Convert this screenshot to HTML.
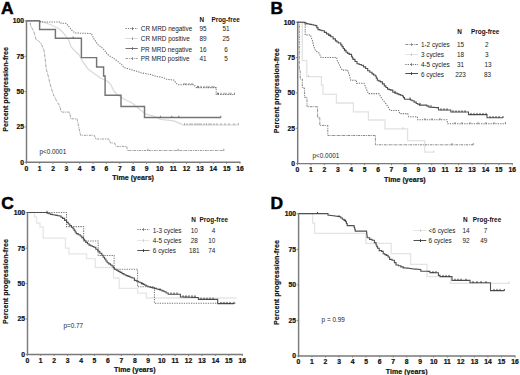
<!DOCTYPE html>
<html><head><meta charset="utf-8"><style>
html,body{margin:0;padding:0;background:#fff;}
svg{display:block;font-family:"Liberation Sans",sans-serif;}
</style></head><body>
<svg width="520" height="375" viewBox="0 0 520 375">
<rect width="520" height="375" fill="#fff"/>
<path d="M26.50 20.40V162.30H240.50" fill="none" stroke="#7a7a7a" stroke-width="1.45"/>
<path d="M26.30 162.30v1.6M39.66 162.30v1.6M53.01 162.30v1.6M66.37 162.30v1.6M79.72 162.30v1.6M93.08 162.30v1.6M106.44 162.30v1.6M119.79 162.30v1.6M133.15 162.30v1.6M146.51 162.30v1.6M159.86 162.30v1.6M173.22 162.30v1.6M186.57 162.30v1.6M199.93 162.30v1.6M213.29 162.30v1.6M226.64 162.30v1.6M240.00 162.30v1.6M26.30 162.30h-1.6M26.30 126.98h-1.6M26.30 91.65h-1.6M26.30 56.33h-1.6M26.30 21.00h-1.6" stroke="#7a7a7a" stroke-width="0.9"/>
<text x="26.30" y="170.70" font-size="6.75" text-anchor="middle" font-weight="bold" fill="#111" stroke="#111" stroke-width="0.22" >0</text>
<text x="39.66" y="170.70" font-size="6.75" text-anchor="middle" font-weight="bold" fill="#111" stroke="#111" stroke-width="0.22" >1</text>
<text x="53.01" y="170.70" font-size="6.75" text-anchor="middle" font-weight="bold" fill="#111" stroke="#111" stroke-width="0.22" >2</text>
<text x="66.37" y="170.70" font-size="6.75" text-anchor="middle" font-weight="bold" fill="#111" stroke="#111" stroke-width="0.22" >3</text>
<text x="79.72" y="170.70" font-size="6.75" text-anchor="middle" font-weight="bold" fill="#111" stroke="#111" stroke-width="0.22" >4</text>
<text x="93.08" y="170.70" font-size="6.75" text-anchor="middle" font-weight="bold" fill="#111" stroke="#111" stroke-width="0.22" >5</text>
<text x="106.44" y="170.70" font-size="6.75" text-anchor="middle" font-weight="bold" fill="#111" stroke="#111" stroke-width="0.22" >6</text>
<text x="119.79" y="170.70" font-size="6.75" text-anchor="middle" font-weight="bold" fill="#111" stroke="#111" stroke-width="0.22" >7</text>
<text x="133.15" y="170.70" font-size="6.75" text-anchor="middle" font-weight="bold" fill="#111" stroke="#111" stroke-width="0.22" >8</text>
<text x="146.51" y="170.70" font-size="6.75" text-anchor="middle" font-weight="bold" fill="#111" stroke="#111" stroke-width="0.22" >9</text>
<text x="159.86" y="170.70" font-size="6.75" text-anchor="middle" font-weight="bold" fill="#111" stroke="#111" stroke-width="0.22" >10</text>
<text x="173.22" y="170.70" font-size="6.75" text-anchor="middle" font-weight="bold" fill="#111" stroke="#111" stroke-width="0.22" >11</text>
<text x="186.57" y="170.70" font-size="6.75" text-anchor="middle" font-weight="bold" fill="#111" stroke="#111" stroke-width="0.22" >12</text>
<text x="199.93" y="170.70" font-size="6.75" text-anchor="middle" font-weight="bold" fill="#111" stroke="#111" stroke-width="0.22" >13</text>
<text x="213.29" y="170.70" font-size="6.75" text-anchor="middle" font-weight="bold" fill="#111" stroke="#111" stroke-width="0.22" >14</text>
<text x="226.64" y="170.70" font-size="6.75" text-anchor="middle" font-weight="bold" fill="#111" stroke="#111" stroke-width="0.22" >15</text>
<text x="240.00" y="170.70" font-size="6.75" text-anchor="middle" font-weight="bold" fill="#111" stroke="#111" stroke-width="0.22" >16</text>
<text x="23.90" y="164.70" font-size="6.75" text-anchor="end" font-weight="bold" fill="#111" stroke="#111" stroke-width="0.22" >0</text>
<text x="23.90" y="129.38" font-size="6.75" text-anchor="end" font-weight="bold" fill="#111" stroke="#111" stroke-width="0.22" >25</text>
<text x="23.90" y="94.05" font-size="6.75" text-anchor="end" font-weight="bold" fill="#111" stroke="#111" stroke-width="0.22" >50</text>
<text x="23.90" y="58.73" font-size="6.75" text-anchor="end" font-weight="bold" fill="#111" stroke="#111" stroke-width="0.22" >75</text>
<text x="23.90" y="23.40" font-size="6.75" text-anchor="end" font-weight="bold" fill="#111" stroke="#111" stroke-width="0.22" >100</text>
<text x="1.00" y="14.00" font-size="17.4" text-anchor="start" font-weight="bold" fill="#000" stroke="#000" stroke-width="0.5" >A</text>
<text x="133.15" y="180.20" font-size="7.1" text-anchor="middle" font-weight="bold" fill="#111" stroke="#111" stroke-width="0.18" >Time (years)</text>
<text x="0.00" y="0.00" font-size="7.15" text-anchor="middle" font-weight="bold" fill="#111" stroke="#111" stroke-width="0.18" transform="translate(8.40,89.40) rotate(-90)">Percent progression-free</text>
<path d="M297.70 21.60V163.60H512.80" fill="none" stroke="#7a7a7a" stroke-width="1.45"/>
<path d="M297.50 163.60v1.6M310.93 163.60v1.6M324.35 163.60v1.6M337.77 163.60v1.6M351.20 163.60v1.6M364.62 163.60v1.6M378.05 163.60v1.6M391.47 163.60v1.6M404.90 163.60v1.6M418.32 163.60v1.6M431.75 163.60v1.6M445.17 163.60v1.6M458.60 163.60v1.6M472.02 163.60v1.6M485.45 163.60v1.6M498.87 163.60v1.6M512.30 163.60v1.6M297.50 163.60h-1.6M297.50 128.25h-1.6M297.50 92.90h-1.6M297.50 57.55h-1.6M297.50 22.20h-1.6" stroke="#7a7a7a" stroke-width="0.9"/>
<text x="297.50" y="172.00" font-size="6.75" text-anchor="middle" font-weight="bold" fill="#111" stroke="#111" stroke-width="0.22" >0</text>
<text x="310.93" y="172.00" font-size="6.75" text-anchor="middle" font-weight="bold" fill="#111" stroke="#111" stroke-width="0.22" >1</text>
<text x="324.35" y="172.00" font-size="6.75" text-anchor="middle" font-weight="bold" fill="#111" stroke="#111" stroke-width="0.22" >2</text>
<text x="337.77" y="172.00" font-size="6.75" text-anchor="middle" font-weight="bold" fill="#111" stroke="#111" stroke-width="0.22" >3</text>
<text x="351.20" y="172.00" font-size="6.75" text-anchor="middle" font-weight="bold" fill="#111" stroke="#111" stroke-width="0.22" >4</text>
<text x="364.62" y="172.00" font-size="6.75" text-anchor="middle" font-weight="bold" fill="#111" stroke="#111" stroke-width="0.22" >5</text>
<text x="378.05" y="172.00" font-size="6.75" text-anchor="middle" font-weight="bold" fill="#111" stroke="#111" stroke-width="0.22" >6</text>
<text x="391.47" y="172.00" font-size="6.75" text-anchor="middle" font-weight="bold" fill="#111" stroke="#111" stroke-width="0.22" >7</text>
<text x="404.90" y="172.00" font-size="6.75" text-anchor="middle" font-weight="bold" fill="#111" stroke="#111" stroke-width="0.22" >8</text>
<text x="418.32" y="172.00" font-size="6.75" text-anchor="middle" font-weight="bold" fill="#111" stroke="#111" stroke-width="0.22" >9</text>
<text x="431.75" y="172.00" font-size="6.75" text-anchor="middle" font-weight="bold" fill="#111" stroke="#111" stroke-width="0.22" >10</text>
<text x="445.17" y="172.00" font-size="6.75" text-anchor="middle" font-weight="bold" fill="#111" stroke="#111" stroke-width="0.22" >11</text>
<text x="458.60" y="172.00" font-size="6.75" text-anchor="middle" font-weight="bold" fill="#111" stroke="#111" stroke-width="0.22" >12</text>
<text x="472.02" y="172.00" font-size="6.75" text-anchor="middle" font-weight="bold" fill="#111" stroke="#111" stroke-width="0.22" >13</text>
<text x="485.45" y="172.00" font-size="6.75" text-anchor="middle" font-weight="bold" fill="#111" stroke="#111" stroke-width="0.22" >14</text>
<text x="498.87" y="172.00" font-size="6.75" text-anchor="middle" font-weight="bold" fill="#111" stroke="#111" stroke-width="0.22" >15</text>
<text x="512.30" y="172.00" font-size="6.75" text-anchor="middle" font-weight="bold" fill="#111" stroke="#111" stroke-width="0.22" >16</text>
<text x="295.10" y="166.00" font-size="6.75" text-anchor="end" font-weight="bold" fill="#111" stroke="#111" stroke-width="0.22" >0</text>
<text x="295.10" y="130.65" font-size="6.75" text-anchor="end" font-weight="bold" fill="#111" stroke="#111" stroke-width="0.22" >25</text>
<text x="295.10" y="95.30" font-size="6.75" text-anchor="end" font-weight="bold" fill="#111" stroke="#111" stroke-width="0.22" >50</text>
<text x="295.10" y="59.95" font-size="6.75" text-anchor="end" font-weight="bold" fill="#111" stroke="#111" stroke-width="0.22" >75</text>
<text x="295.10" y="24.60" font-size="6.75" text-anchor="end" font-weight="bold" fill="#111" stroke="#111" stroke-width="0.22" >100</text>
<text x="270.60" y="13.80" font-size="17.4" text-anchor="start" font-weight="bold" fill="#000" stroke="#000" stroke-width="0.5" >B</text>
<text x="404.90" y="181.50" font-size="7.1" text-anchor="middle" font-weight="bold" fill="#111" stroke="#111" stroke-width="0.18" >Time (years)</text>
<text x="0.00" y="0.00" font-size="7.15" text-anchor="middle" font-weight="bold" fill="#111" stroke="#111" stroke-width="0.18" transform="translate(279.20,90.70) rotate(-90)">Percent progression-free</text>
<path d="M27.50 212.20V354.40H242.80" fill="none" stroke="#7a7a7a" stroke-width="1.45"/>
<path d="M27.30 354.40v1.6M40.74 354.40v1.6M54.17 354.40v1.6M67.61 354.40v1.6M81.05 354.40v1.6M94.49 354.40v1.6M107.92 354.40v1.6M121.36 354.40v1.6M134.80 354.40v1.6M148.24 354.40v1.6M161.68 354.40v1.6M175.11 354.40v1.6M188.55 354.40v1.6M201.99 354.40v1.6M215.43 354.40v1.6M228.86 354.40v1.6M242.30 354.40v1.6M27.30 354.40h-1.6M27.30 319.00h-1.6M27.30 283.60h-1.6M27.30 248.20h-1.6M27.30 212.80h-1.6" stroke="#7a7a7a" stroke-width="0.9"/>
<text x="27.30" y="362.80" font-size="6.75" text-anchor="middle" font-weight="bold" fill="#111" stroke="#111" stroke-width="0.22" >0</text>
<text x="40.74" y="362.80" font-size="6.75" text-anchor="middle" font-weight="bold" fill="#111" stroke="#111" stroke-width="0.22" >1</text>
<text x="54.17" y="362.80" font-size="6.75" text-anchor="middle" font-weight="bold" fill="#111" stroke="#111" stroke-width="0.22" >2</text>
<text x="67.61" y="362.80" font-size="6.75" text-anchor="middle" font-weight="bold" fill="#111" stroke="#111" stroke-width="0.22" >3</text>
<text x="81.05" y="362.80" font-size="6.75" text-anchor="middle" font-weight="bold" fill="#111" stroke="#111" stroke-width="0.22" >4</text>
<text x="94.49" y="362.80" font-size="6.75" text-anchor="middle" font-weight="bold" fill="#111" stroke="#111" stroke-width="0.22" >5</text>
<text x="107.92" y="362.80" font-size="6.75" text-anchor="middle" font-weight="bold" fill="#111" stroke="#111" stroke-width="0.22" >6</text>
<text x="121.36" y="362.80" font-size="6.75" text-anchor="middle" font-weight="bold" fill="#111" stroke="#111" stroke-width="0.22" >7</text>
<text x="134.80" y="362.80" font-size="6.75" text-anchor="middle" font-weight="bold" fill="#111" stroke="#111" stroke-width="0.22" >8</text>
<text x="148.24" y="362.80" font-size="6.75" text-anchor="middle" font-weight="bold" fill="#111" stroke="#111" stroke-width="0.22" >9</text>
<text x="161.68" y="362.80" font-size="6.75" text-anchor="middle" font-weight="bold" fill="#111" stroke="#111" stroke-width="0.22" >10</text>
<text x="175.11" y="362.80" font-size="6.75" text-anchor="middle" font-weight="bold" fill="#111" stroke="#111" stroke-width="0.22" >11</text>
<text x="188.55" y="362.80" font-size="6.75" text-anchor="middle" font-weight="bold" fill="#111" stroke="#111" stroke-width="0.22" >12</text>
<text x="201.99" y="362.80" font-size="6.75" text-anchor="middle" font-weight="bold" fill="#111" stroke="#111" stroke-width="0.22" >13</text>
<text x="215.43" y="362.80" font-size="6.75" text-anchor="middle" font-weight="bold" fill="#111" stroke="#111" stroke-width="0.22" >14</text>
<text x="228.86" y="362.80" font-size="6.75" text-anchor="middle" font-weight="bold" fill="#111" stroke="#111" stroke-width="0.22" >15</text>
<text x="242.30" y="362.80" font-size="6.75" text-anchor="middle" font-weight="bold" fill="#111" stroke="#111" stroke-width="0.22" >16</text>
<text x="24.90" y="356.80" font-size="6.75" text-anchor="end" font-weight="bold" fill="#111" stroke="#111" stroke-width="0.22" >0</text>
<text x="24.90" y="321.40" font-size="6.75" text-anchor="end" font-weight="bold" fill="#111" stroke="#111" stroke-width="0.22" >25</text>
<text x="24.90" y="286.00" font-size="6.75" text-anchor="end" font-weight="bold" fill="#111" stroke="#111" stroke-width="0.22" >50</text>
<text x="24.90" y="250.60" font-size="6.75" text-anchor="end" font-weight="bold" fill="#111" stroke="#111" stroke-width="0.22" >75</text>
<text x="24.90" y="215.20" font-size="6.75" text-anchor="end" font-weight="bold" fill="#111" stroke="#111" stroke-width="0.22" >100</text>
<text x="1.20" y="209.20" font-size="17.4" text-anchor="start" font-weight="bold" fill="#000" stroke="#000" stroke-width="0.5" >C</text>
<text x="134.80" y="372.30" font-size="7.1" text-anchor="middle" font-weight="bold" fill="#111" stroke="#111" stroke-width="0.18" >Time (years)</text>
<text x="0.00" y="0.00" font-size="7.15" text-anchor="middle" font-weight="bold" fill="#111" stroke="#111" stroke-width="0.18" transform="translate(8.10,281.50) rotate(-90)">Percent progression-free</text>
<path d="M298.60 213.20V355.90H515.50" fill="none" stroke="#7a7a7a" stroke-width="1.45"/>
<path d="M298.40 355.90v1.6M311.94 355.90v1.6M325.47 355.90v1.6M339.01 355.90v1.6M352.55 355.90v1.6M366.09 355.90v1.6M379.62 355.90v1.6M393.16 355.90v1.6M406.70 355.90v1.6M420.24 355.90v1.6M433.77 355.90v1.6M447.31 355.90v1.6M460.85 355.90v1.6M474.39 355.90v1.6M487.93 355.90v1.6M501.46 355.90v1.6M515.00 355.90v1.6M298.40 355.90h-1.6M298.40 320.38h-1.6M298.40 284.85h-1.6M298.40 249.32h-1.6M298.40 213.80h-1.6" stroke="#7a7a7a" stroke-width="0.9"/>
<text x="298.40" y="364.30" font-size="6.75" text-anchor="middle" font-weight="bold" fill="#111" stroke="#111" stroke-width="0.22" >0</text>
<text x="311.94" y="364.30" font-size="6.75" text-anchor="middle" font-weight="bold" fill="#111" stroke="#111" stroke-width="0.22" >1</text>
<text x="325.47" y="364.30" font-size="6.75" text-anchor="middle" font-weight="bold" fill="#111" stroke="#111" stroke-width="0.22" >2</text>
<text x="339.01" y="364.30" font-size="6.75" text-anchor="middle" font-weight="bold" fill="#111" stroke="#111" stroke-width="0.22" >3</text>
<text x="352.55" y="364.30" font-size="6.75" text-anchor="middle" font-weight="bold" fill="#111" stroke="#111" stroke-width="0.22" >4</text>
<text x="366.09" y="364.30" font-size="6.75" text-anchor="middle" font-weight="bold" fill="#111" stroke="#111" stroke-width="0.22" >5</text>
<text x="379.62" y="364.30" font-size="6.75" text-anchor="middle" font-weight="bold" fill="#111" stroke="#111" stroke-width="0.22" >6</text>
<text x="393.16" y="364.30" font-size="6.75" text-anchor="middle" font-weight="bold" fill="#111" stroke="#111" stroke-width="0.22" >7</text>
<text x="406.70" y="364.30" font-size="6.75" text-anchor="middle" font-weight="bold" fill="#111" stroke="#111" stroke-width="0.22" >8</text>
<text x="420.24" y="364.30" font-size="6.75" text-anchor="middle" font-weight="bold" fill="#111" stroke="#111" stroke-width="0.22" >9</text>
<text x="433.77" y="364.30" font-size="6.75" text-anchor="middle" font-weight="bold" fill="#111" stroke="#111" stroke-width="0.22" >10</text>
<text x="447.31" y="364.30" font-size="6.75" text-anchor="middle" font-weight="bold" fill="#111" stroke="#111" stroke-width="0.22" >11</text>
<text x="460.85" y="364.30" font-size="6.75" text-anchor="middle" font-weight="bold" fill="#111" stroke="#111" stroke-width="0.22" >12</text>
<text x="474.39" y="364.30" font-size="6.75" text-anchor="middle" font-weight="bold" fill="#111" stroke="#111" stroke-width="0.22" >13</text>
<text x="487.93" y="364.30" font-size="6.75" text-anchor="middle" font-weight="bold" fill="#111" stroke="#111" stroke-width="0.22" >14</text>
<text x="501.46" y="364.30" font-size="6.75" text-anchor="middle" font-weight="bold" fill="#111" stroke="#111" stroke-width="0.22" >15</text>
<text x="515.00" y="364.30" font-size="6.75" text-anchor="middle" font-weight="bold" fill="#111" stroke="#111" stroke-width="0.22" >16</text>
<text x="296.00" y="358.30" font-size="6.75" text-anchor="end" font-weight="bold" fill="#111" stroke="#111" stroke-width="0.22" >0</text>
<text x="296.00" y="322.77" font-size="6.75" text-anchor="end" font-weight="bold" fill="#111" stroke="#111" stroke-width="0.22" >25</text>
<text x="296.00" y="287.25" font-size="6.75" text-anchor="end" font-weight="bold" fill="#111" stroke="#111" stroke-width="0.22" >50</text>
<text x="296.00" y="251.72" font-size="6.75" text-anchor="end" font-weight="bold" fill="#111" stroke="#111" stroke-width="0.22" >75</text>
<text x="296.00" y="216.20" font-size="6.75" text-anchor="end" font-weight="bold" fill="#111" stroke="#111" stroke-width="0.22" >100</text>
<text x="270.60" y="209.20" font-size="17.4" text-anchor="start" font-weight="bold" fill="#000" stroke="#000" stroke-width="0.5" >D</text>
<text x="406.70" y="373.80" font-size="7.1" text-anchor="middle" font-weight="bold" fill="#111" stroke="#111" stroke-width="0.18" >Time (years)</text>
<text x="0.00" y="0.00" font-size="7.15" text-anchor="middle" font-weight="bold" fill="#111" stroke="#111" stroke-width="0.18" transform="translate(279.00,282.60) rotate(-90)">Percent progression-free</text>
<path d="M26.30 20.80 L40.00 21.40 L44.20 22.30 L50.00 24.50 L58.70 28.50 L62.00 31.50 L65.40 35.30 L69.20 41.00 L71.10 47.00 L75.00 51.00 L79.20 55.00 L83.00 62.00 L88.00 69.00 L94.00 73.50 L101.00 78.30 L108.00 81.50 L111.00 85.00 L114.00 91.30 L118.00 95.00 L123.00 98.50 L132.00 103.00 L140.20 109.80 L145.60 113.80 L155.00 116.50 L160.40 119.40 L173.80 120.80 L178.00 122.60 L183.10 124.90 L238.30 124.90" fill="none" stroke="#dadada" stroke-width="1.3" stroke-linejoin="miter" />
<path d="M184.50 125.20v-2.0M187.00 125.20v-2.0M190.00 125.20v-2.0M192.00 125.20v-2.0M195.00 125.20v-2.0M197.00 125.20v-2.0M199.00 125.20v-2.0M201.00 125.20v-2.0M204.00 125.20v-2.0M206.50 125.20v-2.0M209.00 125.20v-2.0M211.00 125.20v-2.0M214.00 125.20v-2.0M217.00 125.20v-2.0M221.00 125.20v-2.0M225.00 125.20v-2.0M229.00 125.20v-2.0M234.00 125.20v-2.0M238.30 125.20v-2.0" stroke="#9a9a9a" stroke-width="0.9"/>
<path d="M26.30 20.80 L29.80 21.30 L30.80 26.10 L32.70 29.50 L33.70 31.40 L34.60 34.30 L36.10 39.60 L38.50 41.00 L39.50 41.60 L41.50 44.30 L44.20 51.00 L45.30 60.00 L46.20 68.70 L48.60 77.50 L50.90 86.90 L53.60 95.00 L56.30 100.40 L59.40 105.40 L61.40 112.10 L69.50 112.10 L70.80 118.80 L76.90 118.80 L77.60 121.50 L79.60 131.00 L80.60 135.30 L94.40 135.30 L95.70 139.00 L109.20 139.00 L110.50 143.00 L114.60 143.00 L115.90 146.40 L126.80 146.40 L127.20 150.50 L223.80 150.50" fill="none" stroke="#a0a0a0" stroke-width="1.0" stroke-dasharray="2.6 0.8 0.9 0.8" stroke-linejoin="miter" />
<path d="M148.00 150.80v-2.0M178.00 150.80v-2.0M223.80 150.80v-2.0" stroke="#888" stroke-width="0.9"/>
<path d="M26.30 20.80 L40.50 20.80 L40.50 22.00 L60.50 22.00 L61.00 23.30 L66.00 23.30 L68.00 25.50 L70.00 28.00 L72.50 31.00 L75.00 33.00 L91.30 33.50 L94.00 38.90 L98.10 44.90 L103.50 49.00 L107.50 54.40 L111.50 57.00 L115.60 59.70 L122.30 65.10 L123.60 67.40 L130.40 69.40 L137.10 71.40 L141.10 72.80 L147.90 74.10 L151.00 74.50 L156.40 76.50 L162.80 77.40 L166.50 79.20 L173.80 80.10 L177.40 84.70 L193.90 84.70 L196.20 87.60 L216.20 87.60 L216.20 94.40 L235.00 94.40" fill="none" stroke="#7c7c7c" stroke-width="1.05" stroke-dasharray="1.3 1.1" stroke-linejoin="miter" />
<path d="M197.50 87.90v-2.0M198.50 87.90v-2.0M201.00 87.90v-2.0M204.00 87.90v-2.0M207.00 87.90v-2.0M209.00 87.90v-2.0M212.00 87.90v-2.0M214.00 87.90v-2.0M217.50 94.70v-2.0M218.50 94.70v-2.0M221.00 94.70v-2.0M224.00 94.70v-2.0M226.00 94.70v-2.0M229.00 94.70v-2.0M231.00 94.70v-2.0M234.50 94.70v-2.0M184.00 85.00v-2.0M186.00 85.00v-2.0M189.00 85.00v-2.0M192.00 85.00v-2.0" stroke="#777" stroke-width="0.9"/>
<path d="M26.30 20.80 L39.60 20.80 L39.60 29.40 L55.40 29.40 L55.40 38.20 L81.40 38.20 L81.40 57.60 L96.60 57.60 L96.60 66.90 L103.60 66.90 L103.60 76.00 L105.10 76.00 L105.10 95.30 L121.00 95.30 L121.00 106.40 L144.50 106.40 L144.50 117.50 L220.80 117.50" fill="none" stroke="#747474" stroke-width="1.45" stroke-linejoin="miter" />
<path d="M73.10 38.50v-2.0M160.40 117.80v-2.0M171.80 117.80v-2.0M178.80 117.80v-2.0M220.80 117.80v-2.0" stroke="#666" stroke-width="0.9"/>
<path d="M297.50 22.20 L302.30 22.20 L302.30 60.70 L306.80 60.70 L306.80 76.70 L321.40 76.70 L321.40 85.00 L323.00 85.00 L323.00 94.40 L336.40 94.40 L336.40 103.00 L353.40 103.00 L353.40 111.80 L368.40 111.80 L368.40 120.00 L385.00 120.00 L385.00 128.90 L407.60 128.90 L407.60 140.70 L424.80 140.70 L424.80 152.20 L433.80 152.20" fill="none" stroke="#e2e2e2" stroke-width="1.3" stroke-linejoin="miter" />
<path d="M308.50 77.00v-2.0M433.80 152.50v-2.0M403.00 129.20v-2.0" stroke="#c8c8c8" stroke-width="0.9"/>
<path d="M297.50 22.20 L299.30 22.20 L299.30 70.00 L300.20 70.00 L300.20 79.00 L302.30 79.00 L302.30 88.00 L304.60 88.00 L304.60 97.40 L307.00 97.40 L307.00 106.70 L317.60 106.70 L317.60 117.60 L319.80 117.60 L319.80 125.40 L327.80 125.40 L327.80 135.50 L375.40 135.50 L375.40 144.80 L473.20 144.80" fill="none" stroke="#8a8a8a" stroke-width="1.0" stroke-dasharray="2.6 0.8 0.9 0.8" stroke-linejoin="miter" />
<path d="M473.20 145.10v-2.0M452.00 145.10v-2.0" stroke="#808080" stroke-width="0.9"/>
<path d="M297.50 22.20 L305.20 22.20 L305.20 35.00 L310.40 35.00 L312.50 40.90 L314.00 47.00 L315.60 50.80 L319.20 53.20 L321.00 57.40 L336.60 57.40 L337.20 60.50 L339.20 64.50 L340.60 67.50 L342.00 70.10 L347.50 70.10 L348.20 71.50 L350.70 79.80 L350.70 80.30 L356.50 80.30 L356.50 83.20 L364.00 83.20 L366.00 88.00 L368.30 93.60 L378.90 93.60 L382.10 99.20 L385.30 102.90 L388.00 106.70 L390.10 110.40 L398.70 110.40 L399.70 113.60 L407.70 113.60 L408.80 116.80 L417.30 116.80 L417.60 119.80 L447.00 119.80 L447.80 123.80 L505.40 123.80" fill="none" stroke="#747474" stroke-width="1.05" stroke-dasharray="1.3 1.1" stroke-linejoin="miter" />
<path d="M455.00 124.10v-2.0M462.00 124.10v-2.0M470.00 124.10v-2.0M478.00 124.10v-2.0M486.00 124.10v-2.0M494.00 124.10v-2.0M505.40 124.10v-2.0M425.00 120.10v-2.0M432.00 120.10v-2.0M440.00 120.10v-2.0" stroke="#707070" stroke-width="0.9"/>
<path d="M297.50 22.20 L302.80 22.20 L304.40 22.20 L304.40 22.90 L306.00 22.90 L306.00 23.60 L307.92 23.60 L307.92 24.00 L309.84 24.00 L309.84 24.40 L311.76 24.40 L311.76 24.80 L313.68 24.80 L313.68 25.20 L315.60 25.20 L315.60 25.60 L316.80 25.60 L316.80 27.60 L318.00 27.60 L318.00 29.60 L319.95 29.60 L319.95 30.20 L321.90 30.20 L321.90 30.80 L324.40 30.80 L324.40 32.40 L326.53 32.40 L326.53 33.87 L328.67 33.87 L328.67 35.33 L330.80 35.33 L330.80 36.80 L333.10 36.80 L333.10 38.85 L335.40 38.85 L335.40 40.90 L336.90 40.90 L336.90 41.95 L338.40 41.95 L338.40 43.00 L340.80 43.00 L340.80 44.90 L342.00 44.90 L342.00 46.67 L343.20 46.67 L343.20 48.43 L344.40 48.43 L344.40 50.20 L346.10 50.20 L346.10 52.30 L347.65 52.30 L347.65 53.35 L349.20 53.35 L349.20 54.40 L351.50 54.40 L351.50 56.40 L352.25 56.40 L352.25 57.90 L353.00 57.90 L353.00 59.40 L355.00 59.40 L355.00 61.55 L357.00 61.55 L357.00 63.70 L359.15 63.70 L359.15 64.50 L361.30 64.50 L361.30 65.30 L363.45 65.30 L363.45 66.90 L365.60 66.90 L365.60 68.50 L367.70 68.50 L367.70 70.70 L369.85 70.70 L369.85 72.30 L372.00 72.30 L372.00 73.90 L373.60 73.90 L373.60 74.95 L375.20 74.95 L375.20 76.00 L376.25 76.00 L376.25 78.15 L377.30 78.15 L377.30 80.30 L378.90 80.30 L378.90 81.10 L380.50 81.10 L380.50 81.90 L382.40 81.90 L382.40 83.90 L384.30 83.90 L384.30 85.90 L385.90 85.90 L385.90 87.50 L387.50 87.50 L387.50 89.10 L389.10 89.10 L389.10 89.60 L390.70 89.60 L390.70 90.10 L392.80 90.10 L392.80 92.30 L394.95 92.30 L394.95 93.10 L397.10 93.10 L397.10 93.90 L398.87 93.90 L398.87 94.60 L400.63 94.60 L400.63 95.30 L402.40 95.30 L402.40 96.00 L403.45 96.00 L403.45 97.60 L404.50 97.60 L404.50 99.20 L408.80 99.20 L410.40 99.20 L410.40 100.00 L412.00 100.00 L412.00 100.80 L414.10 100.80 L414.10 102.15 L416.20 102.15 L416.20 103.50 L417.80 103.50 L417.80 104.30 L419.40 104.30 L419.40 105.10 L424.80 105.10 L426.90 105.10 L426.90 106.15 L429.00 106.15 L429.00 107.20 L430.75 107.20 L430.75 107.30 L432.50 107.30 L432.50 107.40 L434.25 107.40 L434.25 107.50 L436.00 107.50 L436.00 107.60 L438.50 107.60 L438.50 110.00 L448.50 110.00 L450.80 110.00 L450.80 112.00 L467.00 112.00 L468.50 112.00 L468.50 114.60 L487.00 114.60 L487.00 117.70 L503.00 117.70" fill="none" stroke="#505050" stroke-width="1.1" stroke-linejoin="miter" />
<path d="M431.00 107.20v-2.0M441.00 110.30v-2.0M444.00 110.30v-2.0M447.00 110.30v-2.0M453.00 112.30v-2.0M456.00 112.30v-2.0M459.00 112.30v-2.0M462.00 112.30v-2.0M465.00 112.30v-2.0M471.00 114.90v-2.0M474.00 114.90v-2.0M477.00 114.90v-2.0M480.00 114.90v-2.0M483.00 114.90v-2.0M486.00 114.90v-2.0M490.00 118.00v-2.0M493.00 118.00v-2.0M496.00 118.00v-2.0M499.00 118.00v-2.0M503.00 118.00v-2.0M330.00 36.30v-2.0M345.00 51.30v-2.0M395.00 92.80v-2.0M410.00 99.50v-2.0M420.00 104.80v-2.0" stroke="#333" stroke-width="0.9"/>
<path d="M27.30 212.50 L34.60 212.50 L34.60 217.20 L36.60 217.20 L36.60 223.00 L40.00 223.00 L40.00 227.00 L43.20 227.00 L43.20 238.20 L65.50 238.20 L65.50 248.20 L69.00 248.20 L69.00 253.80 L86.60 253.80 L86.60 258.60 L95.20 258.60 L95.20 267.50 L113.50 267.50 L113.50 278.00 L119.20 278.00 L119.20 288.40 L137.60 288.40 L137.60 293.20 L146.40 293.20 L146.40 298.00 L236.60 298.00" fill="none" stroke="#e6e6e6" stroke-width="1.3" stroke-linejoin="miter" />
<path d="M27.30 212.50 L66.50 212.50 L66.50 226.60 L83.60 226.60 L83.60 240.90 L98.20 240.90 L98.20 255.40 L114.10 255.40 L114.10 269.20 L137.60 269.20 L137.60 286.80 L154.40 286.80 L154.40 303.20 L236.60 303.20" fill="none" stroke="#7a7a7a" stroke-width="1.05" stroke-dasharray="1.3 1.1" stroke-linejoin="miter" />
<path d="M27.30 212.50 L45.30 212.50 L47.07 212.50 L47.07 213.13 L48.83 213.13 L48.83 213.77 L50.60 213.77 L50.60 214.40 L52.36 214.40 L52.36 214.72 L54.12 214.72 L54.12 215.04 L55.88 215.04 L55.88 215.36 L57.64 215.36 L57.64 215.68 L59.40 215.68 L59.40 216.00 L61.00 216.00 L61.00 217.20 L62.60 217.20 L62.60 218.40 L64.60 218.40 L64.60 220.40 L66.60 220.40 L66.60 222.40 L68.20 222.40 L68.20 224.00 L69.80 224.00 L69.80 225.60 L71.40 225.60 L71.40 227.20 L73.00 227.20 L73.00 228.80 L74.07 228.80 L74.07 230.40 L75.13 230.40 L75.13 232.00 L76.20 232.00 L76.20 233.60 L78.20 233.60 L78.20 234.80 L80.20 234.80 L80.20 236.00 L81.80 236.00 L81.80 237.60 L83.40 237.60 L83.40 239.20 L84.60 239.20 L84.60 240.80 L85.80 240.80 L85.80 242.40 L87.40 242.40 L87.40 243.75 L89.00 243.75 L89.00 245.10 L90.60 245.10 L90.60 245.80 L92.20 245.80 L92.20 246.50 L93.80 246.50 L93.80 247.20 L95.80 247.20 L95.80 249.20 L97.80 249.20 L97.80 251.20 L99.80 251.20 L99.80 253.20 L101.80 253.20 L101.80 255.20 L103.20 255.20 L103.20 257.20 L104.53 257.20 L104.53 259.07 L105.87 259.07 L105.87 260.93 L107.20 260.93 L107.20 262.80 L108.80 262.80 L108.80 263.87 L110.40 263.87 L110.40 264.93 L112.00 264.93 L112.00 266.00 L113.20 266.00 L113.20 267.60 L114.40 267.60 L114.40 269.20 L116.27 269.20 L116.27 270.27 L118.13 270.27 L118.13 271.33 L120.00 271.33 L120.00 272.40 L122.00 272.40 L122.00 273.60 L124.00 273.60 L124.00 274.80 L126.00 274.80 L126.00 275.60 L128.00 275.60 L128.00 276.40 L130.00 276.40 L130.00 277.20 L132.00 277.20 L132.00 278.00 L134.40 278.00 L134.40 280.40 L136.40 280.40 L136.40 281.20 L138.40 281.20 L138.40 282.00 L140.00 282.00 L140.00 282.80 L141.60 282.80 L141.60 283.60 L143.20 283.60 L143.20 284.40 L144.80 284.40 L144.80 285.20 L146.40 285.20 L146.40 286.00 L148.00 286.00 L148.00 286.80 L150.13 286.80 L150.13 287.33 L152.27 287.33 L152.27 287.87 L154.40 287.87 L154.40 288.40 L156.27 288.40 L156.27 288.93 L158.13 288.93 L158.13 289.47 L160.00 289.47 L160.00 290.00 L162.00 290.00 L162.00 290.90 L164.00 290.90 L164.00 291.80 L166.10 291.80 L166.10 293.00 L168.20 293.00 L168.20 294.20 L179.60 294.20 L180.40 294.20 L180.40 297.00 L182.29 297.00 L182.29 297.06 L184.18 297.06 L184.18 297.11 L186.07 297.11 L186.07 297.17 L187.96 297.17 L187.96 297.22 L189.84 297.22 L189.84 297.28 L191.73 297.28 L191.73 297.33 L193.62 297.33 L193.62 297.39 L195.51 297.39 L195.51 297.44 L197.40 297.44 L197.40 297.50 L198.40 297.50 L198.40 299.40 L217.70 299.40 L217.70 303.60 L234.00 303.60" fill="none" stroke="#505050" stroke-width="1.1" stroke-linejoin="miter" />
<path d="M183.00 297.30v-2.0M186.00 297.30v-2.0M189.00 297.30v-2.0M192.00 297.30v-2.0M195.00 297.30v-2.0M201.00 299.70v-2.0M204.00 299.70v-2.0M207.00 299.70v-2.0M210.00 299.70v-2.0M213.00 299.70v-2.0M221.00 303.90v-2.0M224.00 303.90v-2.0M227.00 303.90v-2.0M230.00 303.90v-2.0M234.00 303.90v-2.0M171.00 294.50v-2.0M174.00 294.50v-2.0M177.00 294.50v-2.0M47.00 212.80v-2.0M142.00 284.30v-2.0M160.00 290.30v-2.0" stroke="#333" stroke-width="0.9"/>
<path d="M298.40 213.60 L312.60 213.60 L312.60 223.20 L314.60 223.20 L314.60 233.40 L365.80 233.40 L365.80 243.40 L391.20 243.40 L391.20 253.70 L410.60 253.70 L410.60 264.40 L427.00 264.40 L427.00 276.60 L450.60 276.60 L450.60 283.40 L509.00 283.40" fill="none" stroke="#e4e4e4" stroke-width="1.3" stroke-linejoin="miter" />
<path d="M509.00 283.70v-2.0" stroke="#ccc" stroke-width="0.9"/>
<path d="M298.40 213.60 L327.20 213.60 L328.00 213.60 L328.00 215.20 L330.13 215.20 L330.13 215.47 L332.27 215.47 L332.27 215.73 L334.40 215.73 L334.40 216.00 L336.00 216.00 L336.00 216.27 L337.60 216.27 L337.60 216.53 L339.20 216.53 L339.20 216.80 L340.80 216.80 L340.80 218.00 L342.40 218.00 L342.40 219.20 L344.00 219.20 L344.00 220.40 L345.60 220.40 L345.60 221.60 L346.40 221.60 L346.40 223.60 L347.20 223.60 L347.20 225.60 L353.60 225.60 L354.13 225.60 L354.13 227.43 L354.67 227.43 L354.67 229.27 L355.20 229.27 L355.20 231.10 L366.40 231.10 L366.60 231.10 L366.60 232.78 L366.80 232.78 L366.80 234.45 L367.00 234.45 L367.00 236.12 L367.20 236.12 L367.20 237.80 L369.60 237.80 L369.60 239.40 L372.00 239.40 L372.00 240.20 L374.40 240.20 L374.40 242.60 L376.00 242.60 L376.00 245.00 L376.80 245.00 L376.80 246.60 L377.60 246.60 L377.60 248.20 L379.20 248.20 L379.20 250.60 L381.60 250.60 L381.60 251.40 L383.20 251.40 L383.20 253.80 L384.80 253.80 L384.80 254.60 L386.40 254.60 L386.40 255.40 L388.00 255.40 L388.00 257.00 L389.60 257.00 L389.60 259.40 L392.00 259.40 L392.00 260.20 L394.40 260.20 L394.40 262.60 L396.00 262.60 L396.00 265.00 L398.40 265.00 L398.40 265.80 L400.80 265.80 L400.80 266.90 L403.20 266.90 L403.20 267.90 L404.80 267.90 L404.80 268.00 L406.40 268.00 L406.40 268.10 L408.00 268.10 L408.00 268.20 L409.60 268.20 L409.60 268.47 L411.20 268.47 L411.20 268.73 L412.80 268.73 L412.80 269.00 L414.80 269.00 L414.80 269.15 L416.80 269.15 L416.80 269.30 L418.80 269.30 L418.80 269.45 L420.80 269.45 L420.80 269.60 L420.80 271.20 L422.62 271.20 L422.62 271.24 L424.44 271.24 L424.44 271.28 L426.26 271.28 L426.26 271.32 L428.08 271.32 L428.08 271.36 L429.90 271.36 L429.90 271.40 L429.90 272.60 L432.10 272.60 L432.10 272.67 L434.30 272.67 L434.30 272.73 L436.50 272.73 L436.50 272.80 L438.40 272.80 L438.40 275.40 L440.00 275.40 L440.00 276.60 L452.00 276.60 L452.00 280.40 L470.00 280.40 L470.00 282.80 L490.50 282.80 L490.50 290.60 L504.30 290.60" fill="none" stroke="#505050" stroke-width="1.1" stroke-linejoin="miter" />
<path d="M317.60 213.90v-2.0M339.00 217.10v-2.0M345.00 221.30v-2.0M433.00 273.10v-2.0M436.00 273.10v-2.0M443.00 276.90v-2.0M446.00 276.90v-2.0M449.00 276.90v-2.0M455.00 280.70v-2.0M458.00 280.70v-2.0M461.00 280.70v-2.0M466.00 280.70v-2.0M473.00 283.10v-2.0M477.00 283.10v-2.0M481.00 283.10v-2.0M486.00 283.10v-2.0M494.00 290.90v-2.0M497.00 290.90v-2.0M500.00 290.90v-2.0M504.30 290.90v-2.0" stroke="#333" stroke-width="0.9"/>
<text x="201.90" y="21.50" font-size="6.4" text-anchor="middle" font-weight="bold" fill="#111" >N</text>
<text x="211.40" y="21.50" font-size="6.4" text-anchor="start" font-weight="bold" fill="#111" >Prog-free</text>
<path d="M125.50 28.50 L137.80 28.50" fill="none" stroke="#7c7c7c" stroke-width="1.0" stroke-dasharray="1.3 1.1" stroke-linejoin="miter" />
<path d="M132.50 30.00v-2.8" stroke="#777" stroke-width="0.9"/>
<text x="140.80" y="30.50" font-size="6.4" text-anchor="start" font-weight="normal" fill="#222" >CR MRD negative</text>
<text x="203.00" y="30.50" font-size="6.4" text-anchor="middle" font-weight="normal" fill="#222" >95</text>
<text x="226.00" y="30.50" font-size="6.4" text-anchor="middle" font-weight="normal" fill="#222" >51</text>
<path d="M125.50 38.50 L137.80 38.50" fill="none" stroke="#dadada" stroke-width="1.0" stroke-linejoin="miter" />
<path d="M132.50 40.00v-2.8" stroke="#9a9a9a" stroke-width="0.9"/>
<text x="140.80" y="40.50" font-size="6.4" text-anchor="start" font-weight="normal" fill="#222" >CR MRD positive</text>
<text x="203.00" y="40.50" font-size="6.4" text-anchor="middle" font-weight="normal" fill="#222" >89</text>
<text x="226.00" y="40.50" font-size="6.4" text-anchor="middle" font-weight="normal" fill="#222" >25</text>
<path d="M125.50 48.50 L137.80 48.50" fill="none" stroke="#747474" stroke-width="1.0" stroke-linejoin="miter" />
<path d="M132.50 50.00v-2.8" stroke="#666" stroke-width="0.9"/>
<text x="140.80" y="51.50" font-size="6.4" text-anchor="start" font-weight="normal" fill="#222" >PR MRD negative</text>
<text x="203.00" y="51.50" font-size="6.4" text-anchor="middle" font-weight="normal" fill="#222" >16</text>
<text x="226.00" y="51.50" font-size="6.4" text-anchor="middle" font-weight="normal" fill="#222" >6</text>
<path d="M125.50 58.50 L137.80 58.50" fill="none" stroke="#a0a0a0" stroke-width="1.0" stroke-dasharray="2.6 0.8 0.9 0.8" stroke-linejoin="miter" />
<path d="M132.50 60.00v-2.8" stroke="#888" stroke-width="0.9"/>
<text x="140.80" y="61.10" font-size="6.4" text-anchor="start" font-weight="normal" fill="#222" >PR MRD positive</text>
<text x="203.00" y="61.10" font-size="6.4" text-anchor="middle" font-weight="normal" fill="#222" >41</text>
<text x="226.00" y="61.10" font-size="6.4" text-anchor="middle" font-weight="normal" fill="#222" >5</text>
<text x="39.40" y="153.90" font-size="6.4" text-anchor="start" font-weight="normal" fill="#222" >p&lt;0.0001</text>
<text x="459.50" y="34.10" font-size="6.4" text-anchor="middle" font-weight="bold" fill="#111" >N</text>
<text x="471.00" y="34.10" font-size="6.4" text-anchor="start" font-weight="bold" fill="#111" >Prog-free</text>
<path d="M405.30 44.50 L418.00 44.50" fill="none" stroke="#8a8a8a" stroke-width="1.0" stroke-dasharray="2.6 0.8 0.9 0.8" stroke-linejoin="miter" />
<path d="M411.50 46.00v-2.8" stroke="#808080" stroke-width="0.9"/>
<text x="420.90" y="46.80" font-size="6.4" text-anchor="start" font-weight="normal" fill="#222" >1-2 cycles</text>
<text x="460.50" y="46.80" font-size="6.4" text-anchor="middle" font-weight="normal" fill="#222" >15</text>
<text x="486.80" y="46.80" font-size="6.4" text-anchor="middle" font-weight="normal" fill="#222" >2</text>
<path d="M405.30 54.50 L418.00 54.50" fill="none" stroke="#e2e2e2" stroke-width="1.0" stroke-linejoin="miter" />
<path d="M411.50 56.00v-2.8" stroke="#c8c8c8" stroke-width="0.9"/>
<text x="420.90" y="57.00" font-size="6.4" text-anchor="start" font-weight="normal" fill="#222" >3 cycles</text>
<text x="460.50" y="57.00" font-size="6.4" text-anchor="middle" font-weight="normal" fill="#222" >18</text>
<text x="486.70" y="57.00" font-size="6.4" text-anchor="middle" font-weight="normal" fill="#222" >3</text>
<path d="M405.30 64.50 L418.00 64.50" fill="none" stroke="#747474" stroke-width="1.0" stroke-dasharray="1.3 1.1" stroke-linejoin="miter" />
<path d="M411.50 66.00v-2.8" stroke="#707070" stroke-width="0.9"/>
<text x="420.90" y="66.70" font-size="6.4" text-anchor="start" font-weight="normal" fill="#222" >4-5 cycles</text>
<text x="460.50" y="66.70" font-size="6.4" text-anchor="middle" font-weight="normal" fill="#222" >31</text>
<text x="488.10" y="66.70" font-size="6.4" text-anchor="middle" font-weight="normal" fill="#222" >13</text>
<path d="M405.30 73.50 L418.00 73.50" fill="none" stroke="#505050" stroke-width="1.0" stroke-linejoin="miter" />
<path d="M411.50 75.00v-2.8" stroke="#333" stroke-width="0.9"/>
<text x="420.90" y="76.80" font-size="6.4" text-anchor="start" font-weight="normal" fill="#222" >6 cycles</text>
<text x="460.50" y="76.80" font-size="6.4" text-anchor="middle" font-weight="normal" fill="#222" >223</text>
<text x="487.50" y="76.80" font-size="6.4" text-anchor="middle" font-weight="normal" fill="#222" >83</text>
<text x="312.50" y="157.50" font-size="6.4" text-anchor="start" font-weight="normal" fill="#222" >p&lt;0.0001</text>
<text x="193.50" y="222.00" font-size="6.4" text-anchor="middle" font-weight="bold" fill="#111" >N</text>
<text x="199.60" y="222.00" font-size="6.4" text-anchor="start" font-weight="bold" fill="#111" >Prog-free</text>
<path d="M137.30 229.50 L149.50 229.50" fill="none" stroke="#7a7a7a" stroke-width="1.0" stroke-dasharray="1.3 1.1" stroke-linejoin="miter" />
<path d="M143.50 231.00v-2.8" stroke="#777" stroke-width="0.9"/>
<text x="152.80" y="232.80" font-size="6.4" text-anchor="start" font-weight="normal" fill="#222" >1-3 cycles</text>
<text x="194.30" y="232.80" font-size="6.4" text-anchor="middle" font-weight="normal" fill="#222" >10</text>
<text x="215.40" y="232.80" font-size="6.4" text-anchor="end" font-weight="normal" fill="#222" >4</text>
<path d="M137.30 240.50 L149.50 240.50" fill="none" stroke="#e6e6e6" stroke-width="1.0" stroke-linejoin="miter" />
<path d="M143.50 242.00v-2.8" stroke="#ccc" stroke-width="0.9"/>
<text x="152.80" y="243.00" font-size="6.4" text-anchor="start" font-weight="normal" fill="#222" >4-5 cycles</text>
<text x="194.30" y="243.00" font-size="6.4" text-anchor="middle" font-weight="normal" fill="#222" >28</text>
<text x="215.40" y="243.00" font-size="6.4" text-anchor="end" font-weight="normal" fill="#222" >10</text>
<path d="M137.30 250.50 L149.50 250.50" fill="none" stroke="#505050" stroke-width="1.0" stroke-linejoin="miter" />
<path d="M143.50 252.00v-2.8" stroke="#333" stroke-width="0.9"/>
<text x="152.80" y="252.80" font-size="6.4" text-anchor="start" font-weight="normal" fill="#222" >6 cycles</text>
<text x="194.30" y="252.80" font-size="6.4" text-anchor="middle" font-weight="normal" fill="#222" >181</text>
<text x="215.40" y="252.80" font-size="6.4" text-anchor="end" font-weight="normal" fill="#222" >74</text>
<text x="63.40" y="327.80" font-size="6.4" text-anchor="start" font-weight="normal" fill="#222" >p=0.77</text>
<text x="465.40" y="222.00" font-size="6.4" text-anchor="middle" font-weight="bold" fill="#111" >N</text>
<text x="472.80" y="222.00" font-size="6.4" text-anchor="start" font-weight="bold" fill="#111" >Prog-free</text>
<path d="M413.50 230.50 L426.30 230.50" fill="none" stroke="#e4e4e4" stroke-width="1.0" stroke-linejoin="miter" />
<path d="M420.50 232.00v-2.8" stroke="#ccc" stroke-width="0.9"/>
<text x="428.60" y="232.60" font-size="6.4" text-anchor="start" font-weight="normal" fill="#222" >&lt;6 cycles</text>
<text x="466.00" y="232.60" font-size="6.4" text-anchor="middle" font-weight="normal" fill="#222" >14</text>
<text x="487.40" y="232.60" font-size="6.4" text-anchor="end" font-weight="normal" fill="#222" >7</text>
<path d="M413.50 240.50 L426.30 240.50" fill="none" stroke="#505050" stroke-width="1.0" stroke-linejoin="miter" />
<path d="M420.50 242.00v-2.8" stroke="#333" stroke-width="0.9"/>
<text x="428.60" y="243.10" font-size="6.4" text-anchor="start" font-weight="normal" fill="#222" >6 cycles</text>
<text x="466.00" y="243.10" font-size="6.4" text-anchor="middle" font-weight="normal" fill="#222" >92</text>
<text x="487.40" y="243.10" font-size="6.4" text-anchor="end" font-weight="normal" fill="#222" >49</text>
<text x="321.60" y="322.00" font-size="6.4" text-anchor="start" font-weight="normal" fill="#222" >p = 0.99</text>
</svg>
</body></html>
